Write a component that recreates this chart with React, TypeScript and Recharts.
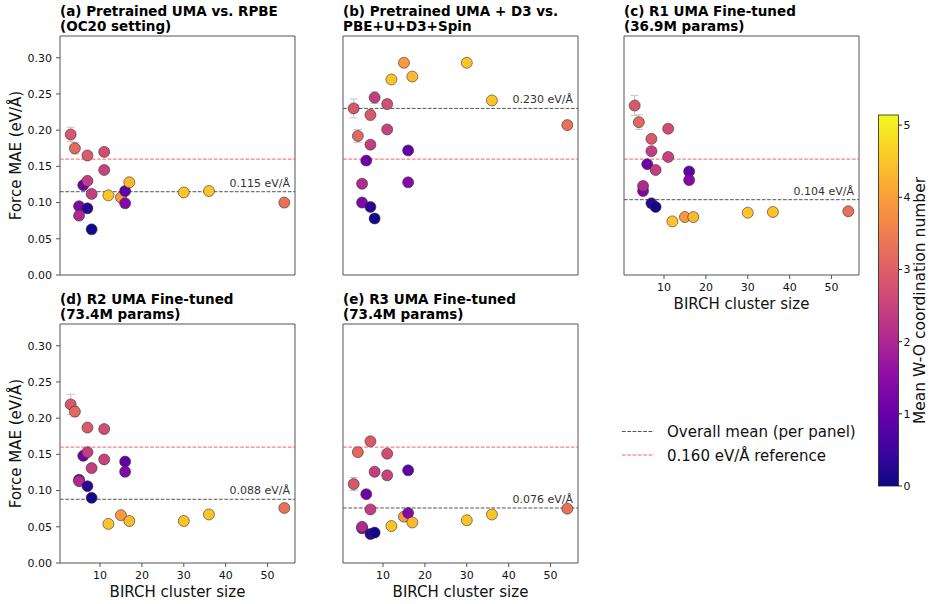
import {
  ErrorBar,
  ReferenceArea,
  ReferenceLine,
  Scatter,
  ScatterChart,
  XAxis,
  YAxis,
} from 'recharts'

// clusters A..T, same order in every panel
const clusterSizes = [3, 4, 5, 5, 6, 7, 7, 7, 8, 8, 11, 11, 12, 15, 16, 16, 17, 30, 36, 54]
const coordNumbers = [2.85, 3.15, 1.3, 2.05, 1.1, 2.9, 2.4, 0.3, 2.4, 0.05, 2.7, 2.5, 4.5, 3.9, 0.9, 1.4, 4.35, 4.5, 4.5, 3.3]

const maeRpbe = [0.194, 0.175, 0.095, 0.082, 0.124, 0.165, 0.13, 0.092, 0.112, 0.063, 0.17, 0.145, 0.11, 0.107, 0.116, 0.099, 0.128, 0.114, 0.116, 0.1]
const maeD3 = [0.23, 0.192, 0.1, 0.126, 0.158, 0.221, 0.18, 0.094, 0.245, 0.078, 0.236, 0.201, 0.27, 0.293, 0.172, 0.128, 0.274, 0.293, 0.241, 0.207]
const maeR1 = [0.234, 0.211, 0.116, 0.123, 0.153, 0.188, 0.171, 0.099, 0.145, 0.094, 0.202, 0.163, 0.074, 0.08, 0.143, 0.131, 0.08, 0.086, 0.087, 0.088]
const maeR2 = [0.219, 0.209, 0.115, 0.113, 0.148, 0.187, 0.153, 0.106, 0.131, 0.09, 0.185, 0.143, 0.054, 0.066, 0.14, 0.126, 0.058, 0.058, 0.067, 0.076]
const maeR3 = [0.109, 0.153, 0.048, 0.05, 0.095, 0.168, 0.074, 0.04, 0.126, 0.042, 0.151, 0.121, 0.051, 0.064, 0.128, 0.069, 0.056, 0.059, 0.067, 0.075]

// std error on a few clusters (A, B, F, I, K), null = none drawn
const errRpbe = [0.01, 0.008, null, null, null, null, null, null, null, null, null, null, null, null, null, null, null, null, null, null]
const errD3 = [0.013, 0.009, null, null, null, 0.007, null, null, 0.008, null, 0.006, null, null, null, null, null, null, null, null, null]
const errR1 = [0.014, 0.01, null, null, null, 0.005, null, null, null, null, null, null, null, null, null, null, null, null, null, null]
const errR2 = [0.014, 0.007, null, null, null, 0.004, null, null, null, null, null, null, null, null, null, null, null, null, null, null]
const errR3 = [0.009, 0.005, null, null, null, 0.005, null, null, null, null, null, null, null, null, null, null, null, null, null, null]

const panelTitles = [
  ['(a) Pretrained UMA vs. RPBE', '(OC20 setting)'],
  ['(b) Pretrained UMA + D3 vs.', 'PBE+U+D3+Spin'],
  ['(c) R1 UMA Fine-tuned', '(36.9M params)'],
  ['(d) R2 UMA Fine-tuned', '(73.4M params)'],
  ['(e) R3 UMA Fine-tuned', '(73.4M params)'],
]
const panelMeans = [0.115, 0.23, 0.104, 0.088, 0.076]
const REF_MAE = 0.16

const xTicks = [10, 20, 30, 40, 50]
const yTicks = [0, 0.05, 0.1, 0.15, 0.2, 0.25, 0.3]
const cbTicks = [0, 1, 2, 3, 4, 5]
const legendLabels = ['Overall mean (per panel)', '0.160 eV/Å reference']

const panelMae = [maeRpbe, maeD3, maeR1, maeR2, maeR3]
const panelErr = [errRpbe, errD3, errR1, errR2, errR3]

const X_DOMAIN: [number, number] = [0.45, 56.55]
const Y_DOMAIN: [number, number] = [0, 0.33]
const CB_MAX = 5.14
const PLOT_W = 235
const PLOT_H = 239
const AXIS = '#555'
const TEXT = '#111'
const MEAN_COLOR = '#555'
const REF_COLOR = '#ff4444'
const DASH = '3.7 1.6'

const LAYOUT = [
  { left: 60, top: 36, xTicks: false, xLabel: false, yTicks: true },
  { left: 343, top: 36, xTicks: false, xLabel: false, yTicks: false },
  { left: 624, top: 36, xTicks: true, xLabel: true, yTicks: false },
  { left: 60, top: 324, xTicks: true, xLabel: true, yTicks: true },
  { left: 343, top: 324, xTicks: true, xLabel: true, yTicks: false },
]

const PLASMA = ['#0d0887', '#41049d', '#6a00a8', '#8f0da4', '#b12a90', '#cc4778', '#e16462', '#f2844b', '#fca636', '#fcce25', '#f0f921']

function hexRgb(h: string) {
  return [1, 3, 5].map((i) => parseInt(h.slice(i, i + 2), 16))
}

function plasma(v: number) {
  const t = Math.min(1, Math.max(0, v / CB_MAX)) * (PLASMA.length - 1)
  const i = Math.min(PLASMA.length - 2, Math.floor(t))
  const f = t - i
  const a = hexRgb(PLASMA[i])
  const b = hexRgb(PLASMA[i + 1])
  const c = a.map((x, k) => Math.round(x + (b[k] - x) * f))
  return `rgb(${c[0]},${c[1]},${c[2]})`
}

function Dot(props: any) {
  const { cx, cy, payload } = props
  if (cx == null || cy == null) return null
  return <circle cx={cx} cy={cy} r={5.5} fill={plasma(payload.cn)} stroke="#333" strokeWidth={0.6} />
}

function Panel({ idx }: { idx: number }) {
  const p = LAYOUT[idx]
  const rows = clusterSizes.map((size, i) => ({
    size,
    mae: panelMae[idx][i],
    err: panelErr[idx][i],
    cn: coordNumbers[i],
  }))
  const tickStyle = { fill: TEXT, fontSize: 11 }
  return (
    <>
      <div
        style={{
          position: 'absolute',
          left: p.left,
          top: p.top - 32,
          fontSize: 13.5,
          fontWeight: 'bold',
          lineHeight: '15px',
          color: '#000',
          whiteSpace: 'nowrap',
        }}
      >
        {panelTitles[idx].map((line) => (
          <div key={line}>{line}</div>
        ))}
      </div>
      <div style={{ position: 'absolute', left: p.left - 60, top: p.top - 2 }}>
        <ScatterChart
          width={60 + PLOT_W + 3}
          height={2 + PLOT_H + 40}
          margin={{ top: 2, right: 3, bottom: 0, left: 0 }}
        >
          <XAxis
            type="number"
            dataKey="size"
            domain={X_DOMAIN}
            ticks={xTicks}
            allowDataOverflow
            axisLine={false}
            tickLine={{ stroke: AXIS }}
            tickSize={4}
            tickMargin={4}
            tick={p.xTicks ? tickStyle : false}
            height={40}
            label={
              p.xLabel
                ? { value: 'BIRCH cluster size', position: 'insideBottom', offset: 6, fill: TEXT, fontSize: 15 }
                : undefined
            }
          />
          <YAxis
            type="number"
            dataKey="mae"
            domain={Y_DOMAIN}
            ticks={yTicks}
            allowDataOverflow
            axisLine={false}
            tickLine={{ stroke: AXIS }}
            tickSize={4}
            tickMargin={4}
            tick={p.yTicks ? tickStyle : false}
            tickFormatter={(v: number) => v.toFixed(2)}
            width={60}
            label={
              p.yTicks
                ? {
                    value: 'Force MAE (eV/Å)',
                    angle: -90,
                    position: 'insideLeft',
                    offset: 16,
                    fill: TEXT,
                    fontSize: 15,
                    style: { textAnchor: 'middle' },
                  }
                : undefined
            }
          />
          <ReferenceLine y={REF_MAE} stroke={REF_COLOR} strokeOpacity={0.85} strokeDasharray={DASH} strokeWidth={1} />
          <ReferenceLine
            y={panelMeans[idx]}
            stroke={MEAN_COLOR}
            strokeDasharray={DASH}
            strokeWidth={1}
            label={{
              value: `${panelMeans[idx].toFixed(3)} eV/Å`,
              position: 'insideBottomRight',
              offset: 5,
              fill: '#333',
              fontSize: 11,
            }}
          />
          <Scatter data={rows} isAnimationActive={false} shape={Dot}>
            <ErrorBar dataKey="err" direction="y" width={4} stroke="#c4c4c4" strokeWidth={1} />
          </Scatter>
          <ReferenceArea
            x1={X_DOMAIN[0]}
            x2={X_DOMAIN[1]}
            y1={Y_DOMAIN[0]}
            y2={Y_DOMAIN[1]}
            fill="none"
            stroke={AXIS}
            strokeWidth={1}
          />
        </ScatterChart>
      </div>
    </>
  )
}

function ColorBar() {
  const top = 15
  const h = 371
  const yOf = (v: number) => top + h - (v / CB_MAX) * h
  return (
    <svg width={63} height={420} style={{ position: 'absolute', left: 870, top: 100 }}>
      <defs>
        <linearGradient id="plasma" x1="0" y1="1" x2="0" y2="0">
          {PLASMA.map((c, i) => (
            <stop key={c} offset={`${(i / (PLASMA.length - 1)) * 100}%`} stopColor={c} />
          ))}
        </linearGradient>
      </defs>
      <rect x={8.5} y={top} width={20} height={h} fill="url(#plasma)" stroke="#222" strokeWidth={0.8} />
      {cbTicks.map((v) => (
        <g key={v}>
          <line x1={28.5} x2={32} y1={yOf(v)} y2={yOf(v)} stroke="#222" />
          <text x={33.5} y={yOf(v) + 4} fontSize={11} fill={TEXT}>
            {v}
          </text>
        </g>
      ))}
      <text
        transform={`translate(55, ${top + h / 2}) rotate(-90)`}
        textAnchor="middle"
        fontSize={15.5}
        fill={TEXT}
      >
        Mean W-O coordination number
      </text>
    </svg>
  )
}

function Legend() {
  const rows = [
    { y: 16.5, color: MEAN_COLOR, opacity: 1 },
    { y: 40, color: REF_COLOR, opacity: 0.85 },
  ]
  return (
    <svg width={280} height={60} style={{ position: 'absolute', left: 600, top: 415 }}>
      {rows.map((r, i) => (
        <g key={i}>
          <line x1={22} x2={54} y1={r.y} y2={r.y} stroke={r.color} strokeOpacity={r.opacity} strokeDasharray={DASH} />
          <text x={67} y={r.y + 5.5} fontSize={15} fill={TEXT}>
            {legendLabels[i]}
          </text>
        </g>
      ))}
    </svg>
  )
}

export default function App() {
  return (
    <div
      style={{
        position: 'absolute',
        left: 0,
        top: 0,
        width: 933,
        height: 604,
        background: '#fff',
        fontFamily: '"DejaVu Sans", sans-serif',
        overflow: 'hidden',
      }}
    >
      {LAYOUT.map((_, i) => (
        <Panel key={i} idx={i} />
      ))}
      <Legend />
      <ColorBar />
    </div>
  )
}
